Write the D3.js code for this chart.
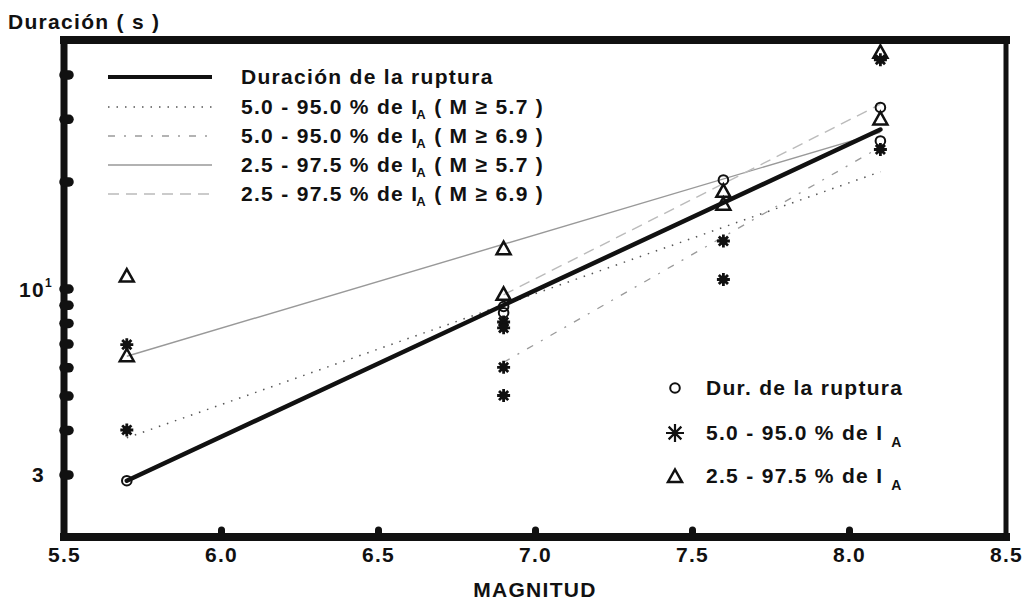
<!DOCTYPE html>
<html>
<head>
<meta charset="utf-8">
<script src="https://cdn.jsdelivr.net/npm/d3@7"></script>
<style>
  body { margin: 0; background: #fff; }
  svg { display: block; }
  text { font-family: "Liberation Sans", Arial, sans-serif; font-weight: bold; font-size: 21px; fill: #111; letter-spacing: 1.3px; }
</style>
</head>
<body>
<svg id="chart" width="1028" height="605"></svg>
<script>
// Observed durations (s) by magnitude
const circleM = [5.7, 6.9, 6.9, 7.6, 8.1, 8.1];
const circleD = [2.88, 8.9, 8.55, 20.2, 32.3, 26.0];
const starM = [5.7, 5.7, 6.9, 6.9, 6.9, 6.9, 7.6, 7.6, 8.1, 8.1];
const starD = [4.0, 6.95, 8.05, 7.75, 6.0, 5.0, 13.6, 10.6, 44.0, 24.6];
const triM = [5.7, 5.7, 6.9, 6.9, 7.6, 7.6, 8.1, 8.1];
const triD = [10.8, 6.45, 12.9, 9.6, 18.7, 17.2, 46.0, 29.9];

// Fitted log-linear trends (end points in magnitude / duration)
const rupFitM = [5.7, 8.1],  rupFitD = [2.88, 28.0];
const d595aM = [5.7, 8.1],   d595aD = [3.8, 21.3];
const d595bM = [6.9, 8.1],   d595bD = [6.2, 25.0];
const d2597aM = [5.7, 8.1],  d2597aD = [6.45, 27.5];
const d2597bM = [6.9, 8.1],  d2597bD = [9.6, 33.0];

// Axis ticks
const xTicks = [5.5, 6.0, 6.5, 7.0, 7.5, 8.0, 8.5];
const xBumpTicks = [6.0, 6.5, 7.0, 7.5, 8.0];
const yBumpTicks = [3, 4, 5, 6, 7, 8, 9, 10, 20, 30, 40];

const lineLegend = [
  { main: "Duración de la ruptura" },
  { main: "5.0 - 95.0 % de I", sub: "A", tail: " ( M ≥ 5.7 )" },
  { main: "5.0 - 95.0 % de I", sub: "A", tail: " ( M ≥ 6.9 )" },
  { main: "2.5 - 97.5 % de I", sub: "A", tail: " ( M ≥ 5.7 )" },
  { main: "2.5 - 97.5 % de I", sub: "A", tail: " ( M ≥ 6.9 )" }
];
const markerLegend = [
  { main: "Dur. de la ruptura" },
  { main: "5.0 - 95.0 %  de I", sub: "A" },
  { main: "2.5 - 97.5 %  de I", sub: "A" }
];

const svg = d3.select("#chart");
const x = d3.scaleLinear().domain([5.5, 8.5]).range([64, 1006]);
const y = d3.scaleLog().domain([2, 50]).range([537, 40]);

// line styles for the five trends
const styles = [
  { w: 4.5, c: "#111", dash: null },
  { w: 1.5, c: "#555", dash: "1.5,7" },
  { w: 1.3, c: "#9a9a9a", dash: "7,9,2,9" },
  { w: 1.4, c: "#999", dash: null },
  { w: 1.4, c: "#bbb", dash: "11,7" }
];
const fits = [
  [rupFitM, rupFitD], [d595aM, d595aD], [d595bM, d595bD], [d2597aM, d2597aD], [d2597bM, d2597bD]
];

const lineGen = d3.line().x(d => x(d[0])).y(d => y(d[1]));
const gLines = svg.append("g");
// grey trends first, the thick rupture trend on top
[1, 2, 3, 4, 0].forEach(i => {
  const [ms, ds] = fits[i];
  const pts = ms.map((m, k) => [m, ds[k]]);
  gLines.append("path")
    .attr("d", lineGen(pts))
    .attr("fill", "none")
    .attr("stroke", styles[i].c)
    .attr("stroke-width", styles[i].w)
    .attr("stroke-linecap", i === 0 ? "round" : "butt")
    .attr("stroke-dasharray", styles[i].dash);
});

// marker shapes
function starPath(r) {
  let p = "";
  for (let k = 0; k < 4; k++) {
    const a = k * Math.PI / 4;
    const dx = r * Math.cos(a), dy = r * Math.sin(a);
    p += `M${-dx},${-dy}L${dx},${dy}`;
  }
  return p;
}
function drawStar(g, cx, cy, r, sw, filled) {
  const s = g.append("g").attr("transform", `translate(${cx},${cy})`);
  s.append("path").attr("d", starPath(r)).attr("stroke", "#111").attr("stroke-width", sw).attr("fill", "none");
  if (filled) s.append("circle").attr("r", r * 0.62).attr("fill", "#111");
}
function drawTri(g, cx, cy) {
  g.append("path")
    .attr("d", "M0,-7.5L7,5L-7,5Z")
    .attr("transform", `translate(${cx},${cy})`)
    .attr("fill", "none").attr("stroke", "#111").attr("stroke-width", 2.5)
    .attr("stroke-linejoin", "miter");
}
function drawCircle(g, cx, cy) {
  g.append("circle").attr("cx", cx).attr("cy", cy).attr("r", 4.8)
    .attr("fill", "none").attr("stroke", "#111").attr("stroke-width", 2);
}

const gPts = svg.append("g");
starM.forEach((m, i) => drawStar(gPts, x(m), y(starD[i]), 6.5, 2.8, true));
circleM.forEach((m, i) => drawCircle(gPts, x(m), y(circleD[i])));
triM.forEach((m, i) => drawTri(gPts, x(m), y(triD[i])));

// frame
const fr = svg.append("g").attr("stroke", "#111").attr("stroke-linecap", "square");
fr.append("line").attr("x1", x(5.5)).attr("x2", x(5.5)).attr("y1", y(50)).attr("y2", y(2)).attr("stroke-width", 7);
fr.append("line").attr("x1", x(5.5)).attr("x2", x(8.5)).attr("y1", y(50)).attr("y2", y(50)).attr("stroke-width", 8);
fr.append("line").attr("x1", x(5.5)).attr("x2", x(8.5)).attr("y1", y(2)).attr("y2", y(2)).attr("stroke-width", 8);
fr.append("line").attr("x1", x(8.5)).attr("x2", x(8.5)).attr("y1", y(50)).attr("y2", y(2)).attr("stroke-width", 5);

// rounded tick bumps
const yAxis = svg.append("g").attr("transform", `translate(${x(5.5)},0)`)
  .call(d3.axisLeft(y).tickValues(yBumpTicks).tickSizeInner(-5).tickSizeOuter(0).tickFormat(""));
yAxis.select(".domain").remove();
yAxis.selectAll(".tick line").attr("stroke", "#111").attr("stroke-width", 9.5).attr("stroke-linecap", "round");

const xAxis = svg.append("g").attr("transform", `translate(0,${y(2)})`)
  .call(d3.axisBottom(x).tickValues(xBumpTicks).tickSizeInner(-7).tickSizeOuter(0).tickFormat(""));
xAxis.select(".domain").remove();
xAxis.selectAll(".tick line").attr("stroke", "#111").attr("stroke-width", 7).attr("stroke-linecap", "round");

// x tick labels
const xLab = svg.append("g").attr("transform", `translate(0,${y(2)})`)
  .call(d3.axisBottom(x).tickValues(xTicks).tickSize(0).tickPadding(10).tickFormat(d3.format(".1f")));
xLab.select(".domain").remove();
xLab.selectAll("text").attr("font-size", null).attr("font-family", null).style("font-size", "21px");

// y tick labels
svg.append("text").attr("x", 45).attr("y", y(3) + 8).attr("text-anchor", "end").text("3");
const t10 = svg.append("text").attr("x", 53).attr("y", y(10) + 8).attr("text-anchor", "end");
t10.append("tspan").text("10");
t10.append("tspan").attr("dy", -10).style("font-size", "12px").text("1");

// axis titles
svg.append("text").attr("x", 8).attr("y", 29).text("Duración ( s )");
svg.append("text").attr("x", (x(5.5) + x(8.5)) / 2).attr("y", 597).attr("text-anchor", "middle").text("MAGNITUD");

// line legend
const rowsA = [77, 107, 136, 165, 194];
lineLegend.forEach((d, i) => {
  const cy = rowsA[i];
  svg.append("line").attr("x1", 108).attr("x2", 212).attr("y1", cy).attr("y2", cy)
    .attr("stroke", styles[i].c).attr("stroke-width", i === 0 ? 4 : styles[i].w)
    .attr("stroke-dasharray", styles[i].dash);
  const t = svg.append("text").attr("x", 241).attr("y", cy + 7);
  t.append("tspan").text(d.main);
  if (d.sub) {
    t.append("tspan").attr("dy", 5).attr("dx", -2).style("font-size", "13px").text(d.sub);
    t.append("tspan").attr("dy", -5).text(d.tail);
  }
});

// marker legend
const rowsB = [388, 433, 476];
drawCircle(svg, 675, rowsB[0]);
drawStar(svg, 675, rowsB[1], 9, 2.2, false);
drawTri(svg, 675, rowsB[2] + 1);
markerLegend.forEach((d, i) => {
  const t = svg.append("text").attr("x", 706).attr("y", rowsB[i] + 7);
  t.append("tspan").text(d.main);
  if (d.sub) t.append("tspan").attr("dy", 7).attr("dx", 8).style("font-size", "14px").text(d.sub);
});
</script>
</body>
</html>
